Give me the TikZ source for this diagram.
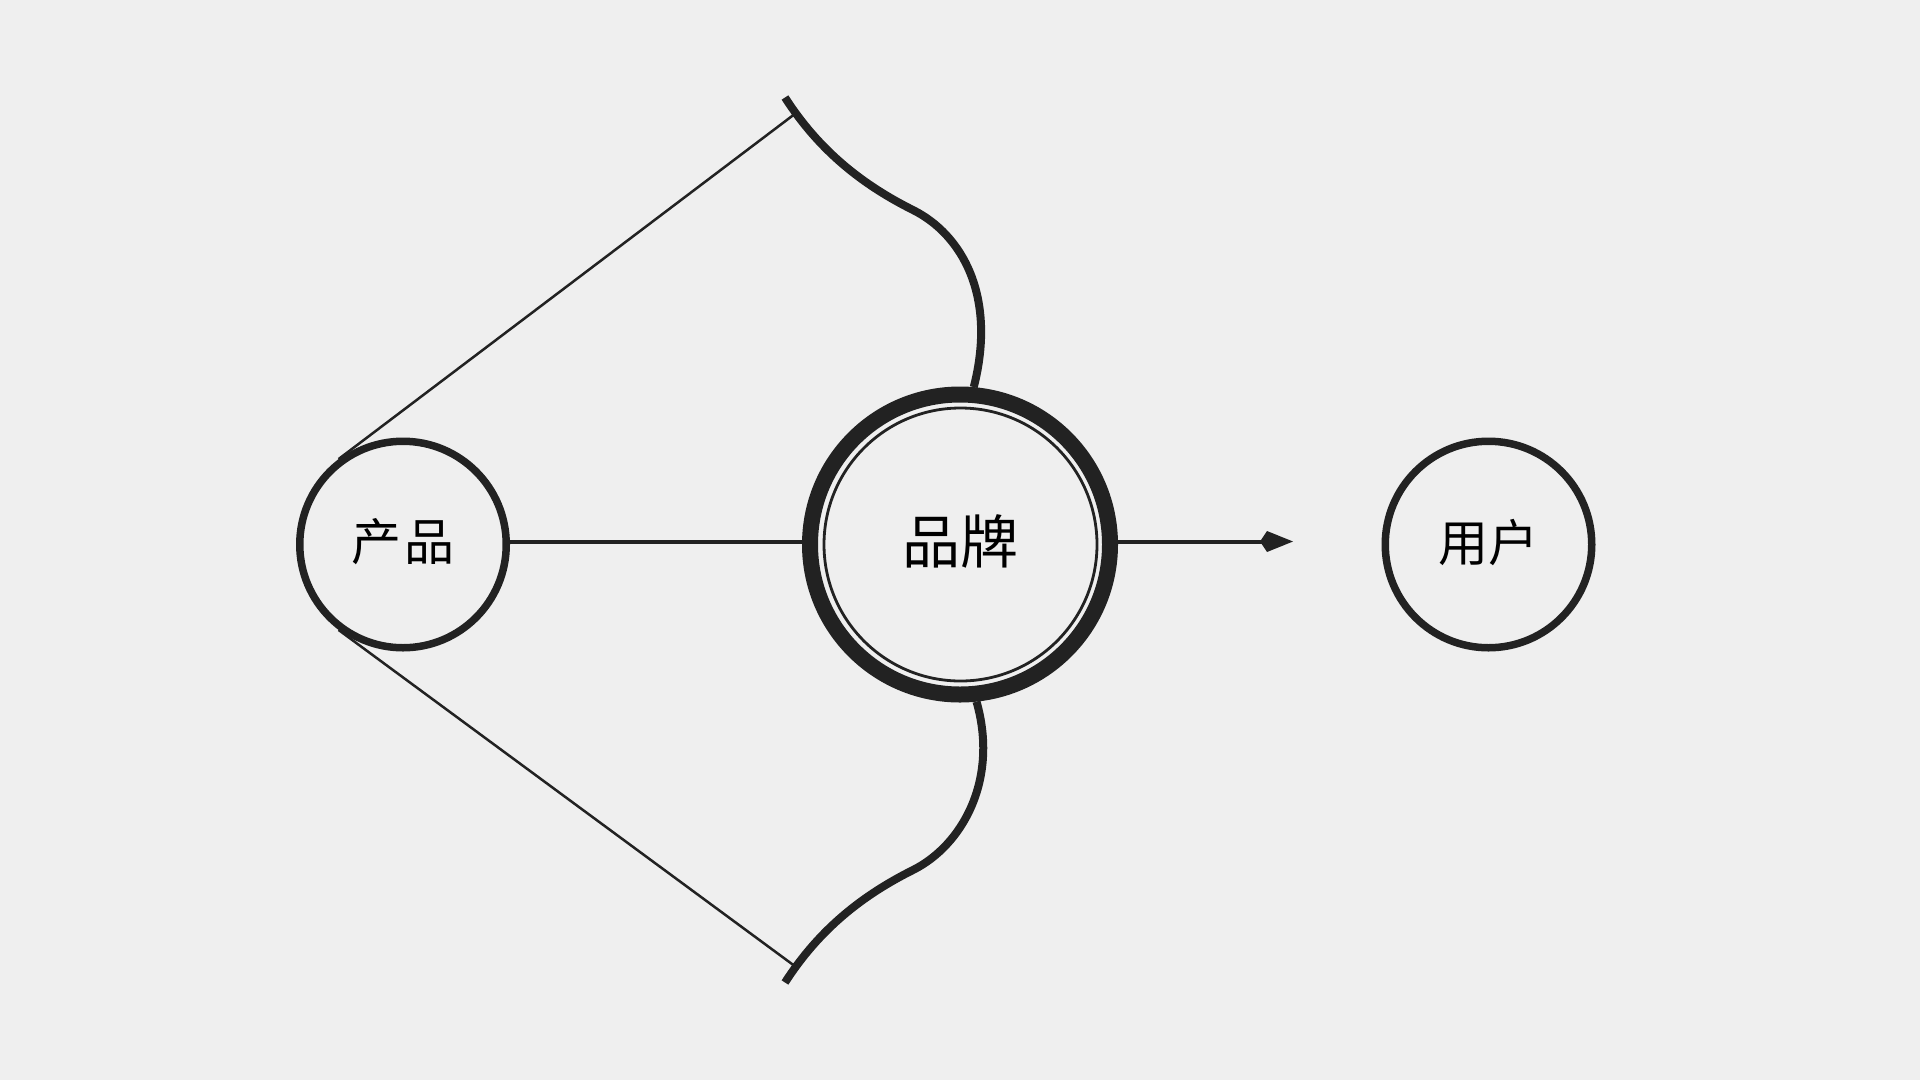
\documentclass[tikz,border=0pt]{standalone}
\usepackage{fontspec}
\newfontfamily\cjk{Noto Sans CJK SC}
\usetikzlibrary{arrows.meta}
\definecolor{bgc}{HTML}{EFEFEF}
\definecolor{ink}{HTML}{222222}
\tikzset{
  ring/.style={circle, draw=ink, line width=7.5pt, minimum size=206.5pt, inner sep=0pt},
  bigring/.style={circle, draw=ink, line width=16pt, minimum size=300pt, inner sep=0pt},
  thinring/.style={circle, draw=ink, line width=2.8pt, minimum size=273pt, inner sep=0pt},
  lbl/.style={font=\cjk\fontsize{50}{50}\selectfont, text=black},
  biglbl/.style={font=\cjk\fontsize{58}{58}\selectfont, text=black},
  conn/.style={draw=ink, line width=4pt},
  thinconn/.style={draw=ink, line width=2.5pt},
  wave/.style={draw=ink, line width=8pt, line cap=butt},
}
\begin{document}
\begin{tikzpicture}[x=1pt,y=-1pt]
\fill[bgc] (0,0) rectangle (1920,1080);
\useasboundingbox (0,0) rectangle (1920,1080);

\node[ring] (prod) at (403,544.5) {};
\node[lbl] at (403,542) {产\hspace{3pt}品};
\node[bigring] (brand) at (960,544.5) {};
\node[thinring] (brandin) at (960.5,544.5) {};
\node[biglbl] at (960.5,541) {品牌};
\node[ring] (user) at (1488.5,544.5) {};
\node[lbl] at (1488.5,543) {用户};

\coordinate (tipA) at (785,97.5);
\coordinate (midA) at (913,210);
\coordinate (tipB) at (785,982.5);
\coordinate (midB) at (913,870);
\coordinate (arrowend) at (1293,541.5);

% top wave
\draw[wave] (tipA) .. controls (820,152) and (864,185.5) .. coordinate[pos=0.1] (hookA) (midA)
  .. controls (962,234.5) and (997,296) .. (brand.85);
% bottom wave
\draw[wave] (tipB) .. controls (820,928) and (864,894.5) .. coordinate[pos=0.1] (hookB) (midB)
  .. controls (962,845.5) and (999,780) .. (brand.-84);

% tangent lines
\draw[thinconn] (prod.127) -- (hookA);
\draw[thinconn] (prod.233) -- (hookB);

% horizontal connectors
\draw[conn] ([yshift=3pt]prod.east) -- ([yshift=3pt]brand.west);
\draw[conn, -{Kite[length=33pt, width=21pt, inset=7pt]}] ([yshift=3pt]brand.east) -- (arrowend);
\end{tikzpicture}
\end{document}
